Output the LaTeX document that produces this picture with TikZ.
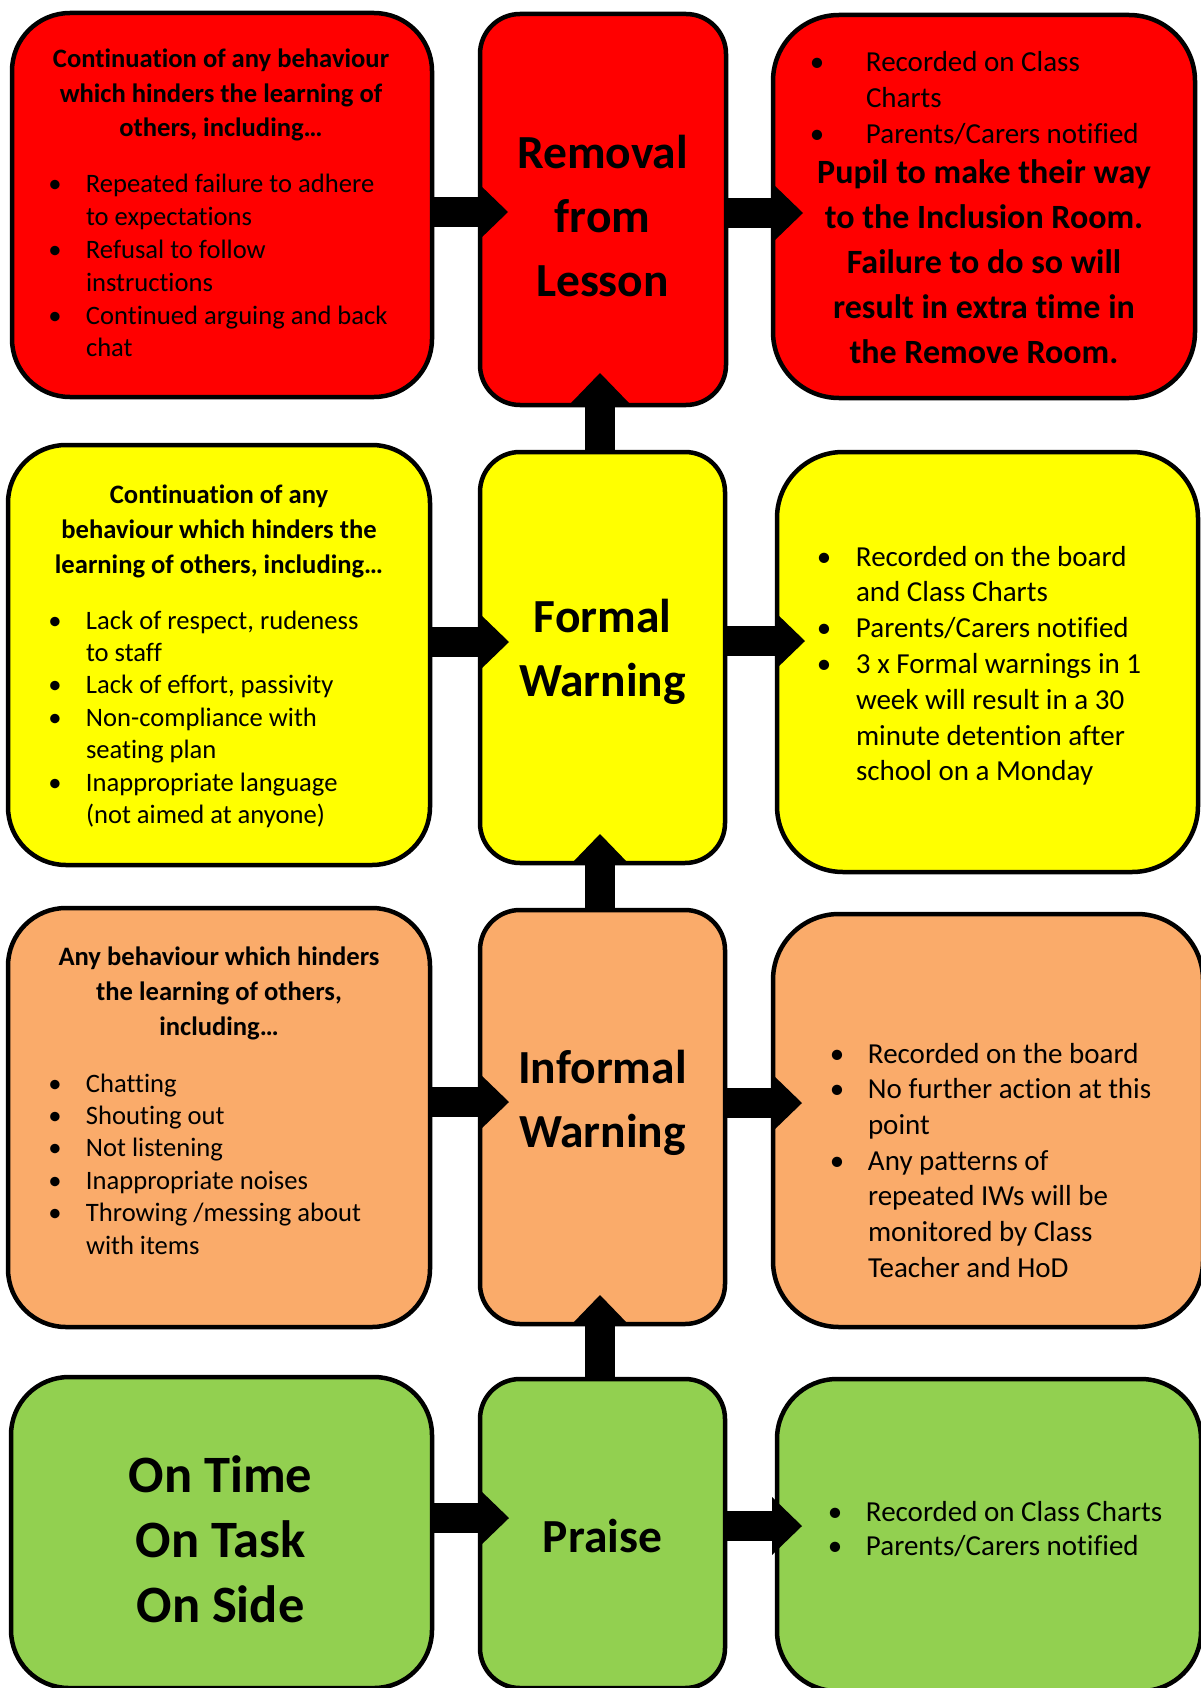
\documentclass[tikz,border=0pt]{standalone}
\usepackage{fontspec}
\setmainfont{Carlito}[Ligatures={TeX,NoCommon}]
\definecolor{cred}{HTML}{FF0000}
\definecolor{cyel}{HTML}{FFFF00}
\definecolor{corg}{HTML}{FAAB6A}
\definecolor{cgrn}{HTML}{92D050}
\newcommand\mybul[1][31pt]{\makebox[0pt]{•}\hspace*{#1}}
\newcommand\myind[1][31pt]{\hspace*{#1}}
\newcommand\bx[7]{\node[bx, fill=#7, rounded corners=#6, minimum width={#4-#2}, minimum height={#5-#3}] (#1) at ({(#2+#4)/2},{(#3+#5)/2}) {};}
\newcommand\harrow[2]{\draw[shaft] (#1.east |- #2) -- ([xshift=-30pt]#2);
  \fill (#2) -- ([shift={(-30pt,29pt)}]#2) -- ([shift={(-30pt,-29pt)}]#2) -- cycle;}
\newcommand\varrow[2]{\draw[shaft] (#1.north -| #2) -- ([yshift=-30pt]#2);
  \fill (#2) -- ([shift={(-29pt,-30pt)}]#2) -- ([shift={(29pt,-30pt)}]#2) -- cycle;}
\begin{document}
\begin{tikzpicture}[x=1pt,y=-1pt,
  bx/.style={draw=black, line width=4.5pt, inner sep=0pt, outer sep=0pt},
  txt/.style={inner sep=0pt, outer sep=0pt, text=black},
  shaft/.style={line width=30pt, draw=black}]
\useasboundingbox (0,0) rectangle (1201,1688);
% ---------- boxes ----------
\bx{L1}{12}{13}{432}{397}{58pt}{cred}
\bx{M1}{480}{14}{726}{405}{40pt}{cred}
\bx{R1}{773}{15}{1195}{398}{66pt}{cred}
\bx{L2}{8}{445}{430}{865}{58pt}{cyel}
\bx{M2}{480}{452}{725}{863}{40pt}{cyel}
\bx{R2}{777}{452}{1198}{872}{66pt}{cyel}
\bx{L3}{8}{908}{430}{1327}{58pt}{corg}
\bx{M3}{480}{910}{725}{1324}{40pt}{corg}
\bx{R3}{773}{914}{1203}{1327}{66pt}{corg}
\bx{L4}{11}{1377}{432}{1688}{58pt}{cgrn}
\bx{M4}{480}{1379}{725}{1688}{40pt}{cgrn}
\bx{R4}{777}{1379}{1201}{1691}{60pt}{cgrn}
% ---------- row 1 text ----------
\node[txt, anchor=base] (L1h) at (221,68) {\parbox[t]{410pt}{\centering\bfseries\fontsize{26.6}{34.5}\selectfont
 Continuation of any behaviour\\ which hinders the learning of\\ others, including…}};
\node[txt, anchor=base west] (L1b) at (55,193) {\parbox[t]{370pt}{\raggedright\fontsize{26.6}{32.8}\selectfont
 \mybul Repeated failure to adhere\\ \myind to expectations\\
 \mybul Refusal to follow\\ \myind instructions\\
 \mybul Continued arguing and back\\ \myind chat}};
\node[txt, anchor=base] (M1t) at (602.5,169) {\parbox[t]{240pt}{\centering\bfseries\fontsize{47.5}{64}\selectfont
 Removal\\ from\\ Lesson}};
\node[txt, anchor=base west] (R1b) at (817,72) {\parbox[t]{370pt}{\raggedright\fontsize{29}{36}\selectfont
 \mybul[49pt]Recorded on Class\\ \myind[49pt]Charts\\
 \mybul[49pt]Parents/Carers notified}};
\node[txt, anchor=base] (R1t) at (984,184) {\parbox[t]{410pt}{\centering\bfseries\fontsize{34}{44.8}\selectfont
 Pupil to make their way\\ to the Inclusion Room.\\ Failure to do so will\\ result in extra time in\\ the Remove Room.}};
% ---------- row 2 text ----------
\node[txt, anchor=base] (L2h) at (219,503) {\parbox[t]{410pt}{\centering\bfseries\fontsize{26.6}{35}\selectfont
 Continuation of any\\ behaviour which hinders the\\ learning of others, including…}};
\node[txt, anchor=base west] (L2b) at (55,629) {\parbox[t]{370pt}{\raggedright\fontsize{26.6}{32.4}\selectfont
 \mybul Lack of respect, rudeness\\ \myind to staff\\
 \mybul Lack of effort, passivity\\
 \mybul Non-compliance with\\ \myind seating plan\\
 \mybul Inappropriate language\\ \myind (not aimed at anyone)}};
\node[txt, anchor=base] (M2t) at (602.5,632) {\parbox[t]{240pt}{\centering\bfseries\fontsize{47.5}{64}\selectfont
 Formal\\ Warning}};
\node[txt, anchor=base west] (R2b) at (824,566) {\parbox[t]{370pt}{\raggedright\fontsize{29}{35.8}\selectfont
 \mybul[32pt]Recorded on the board\\ \myind[32pt]and Class Charts\\
 \mybul[32pt]Parents/Carers notified\\
 \mybul[32pt]3 x Formal warnings in 1\\ \myind[32pt]week will result in a 30\\
 \myind[32pt]minute detention after\\ \myind[32pt]school on a Monday}};
% ---------- row 3 text ----------
\node[txt, anchor=base] (L3h) at (219,965) {\parbox[t]{410pt}{\centering\bfseries\fontsize{26.6}{35}\selectfont
 Any behaviour which hinders\\ the learning of others,\\ including…}};
\node[txt, anchor=base west] (L3b) at (55,1092) {\parbox[t]{370pt}{\raggedright\fontsize{26.6}{32.4}\selectfont
 \mybul Chatting\\ \mybul Shouting out\\ \mybul Not listening\\
 \mybul Inappropriate noises\\ \mybul Throwing /messing about\\ \myind with items}};
\node[txt, anchor=base] (M3t) at (602.5,1083) {\parbox[t]{240pt}{\centering\bfseries\fontsize{47.5}{64}\selectfont
 Informal\\ Warning}};
\node[txt, anchor=base west] (R3b) at (837,1063) {\parbox[t]{350pt}{\raggedright\fontsize{29}{35.7}\selectfont
 \mybul Recorded on the board\\
 \mybul No further action at this\\ \myind point\\
 \mybul Any patterns of\\ \myind repeated IWs will be\\
 \myind monitored by Class\\ \myind Teacher and HoD}};
% ---------- row 4 text ----------
\node[txt, anchor=base] (L4t) at (220.5,1492) {\parbox[t]{410pt}{\centering\bfseries\fontsize{52.5}{65}\selectfont
 On Time\\ On Task\\ On Side}};
\node[txt, anchor=base] (M4t) at (602.5,1552) {\parbox[t]{240pt}{\centering\bfseries\fontsize{47.5}{64}\selectfont Praise}};
\node[txt, anchor=base west] (R4b) at (835,1521) {\parbox[t]{360pt}{\raggedright\fontsize{29}{34}\selectfont
 \mybul Recorded on Class Charts\\ \mybul Parents/Carers notified}};
% ---------- arrow tips ----------
\coordinate (a1l) at (508,212);
\coordinate (a1r) at (803,213);
\coordinate (a2l) at (509,642);
\coordinate (a2r) at (805,641);
\coordinate (a3l) at (509,1102);
\coordinate (a3r) at (802,1103);
\coordinate (a4l) at (509,1518);
\coordinate (a4r) at (802,1526);
\coordinate (u1) at (600,373);
\coordinate (u2) at (600,834);
\coordinate (u3) at (600,1295);
% ---------- arrows ----------
\harrow{L1}{a1l} \harrow{M1}{a1r}
\harrow{L2}{a2l} \harrow{M2}{a2r}
\harrow{L3}{a3l} \harrow{M3}{a3r}
\harrow{L4}{a4l} \harrow{M4}{a4r}
\varrow{M2}{u1}
\varrow{M3}{u2}
\varrow{M4}{u3}
\end{tikzpicture}
\end{document}
